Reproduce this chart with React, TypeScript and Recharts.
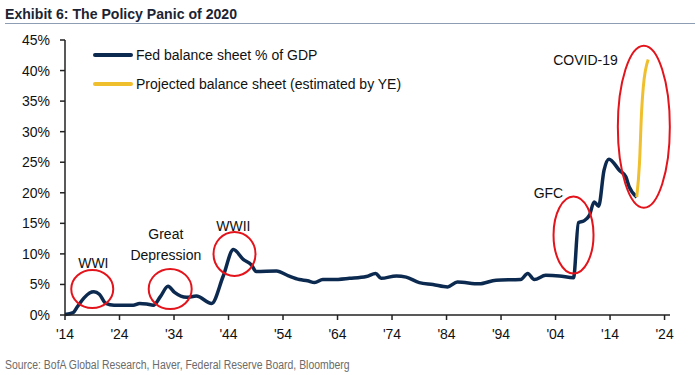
import React from 'react';
import { LineChart, Line, XAxis, YAxis, ReferenceDot } from 'recharts';

const fedYears = [
  1914.0, 1915.5, 1916.3, 1917.5, 1918.5, 1919.3, 1920.3, 1921.5, 1923.0, 1925.0,
  1926.5, 1927.7, 1929.0, 1930.2, 1931.5, 1932.9, 1934.1, 1936.3, 1938.1, 1940.9,
  1943.0, 1944.9, 1946.7, 1948.2, 1949.1, 1952.8, 1955.0, 1957.0, 1958.5, 1959.8,
  1961.3, 1963.1, 1966.2, 1969.3, 1971.0, 1972.0, 1974.8, 1976.6, 1979.0, 1981.5,
  1984.2, 1986.0, 1990.0, 1993.1, 1997.6, 1998.9, 2000.1, 2002.2, 2004.7, 2007.3,
  2008.2, 2009.2, 2010.2, 2011.1, 2011.9, 2012.9, 2013.8, 2015.7, 2016.9, 2017.5,
  2018.9,
];
const fedValues = [
  0.1, 0.4, 1.4, 2.8, 3.6, 3.8, 3.4, 1.9, 1.6, 1.6,
  1.6, 1.9, 1.8, 1.6, 3.0, 4.7, 3.7, 2.9, 3.1, 1.9,
  6.3, 10.7, 9.1, 8.2, 7.1, 7.2, 6.4, 5.8, 5.6, 5.3,
  5.8, 5.8, 6.0, 6.3, 6.8, 6.0, 6.4, 6.2, 5.3, 5.0,
  4.6, 5.4, 5.1, 5.7, 5.8, 6.8, 5.8, 6.5, 6.4, 6.1,
  15.1, 15.4, 16.3, 18.5, 17.8, 23.7, 25.5, 23.7, 22.6, 21.0,
  19.3,
];

// projected balance sheet (estimated by year end)
const projYears = [2018.9, 2019.4, 2019.8, 2020.1, 2021.0];
const projValues = [19.3, 24.8, 33.5, 37.3, 41.8];

const xTicks = [1914, 1924, 1934, 1944, 1954, 1964, 1974, 1984, 1994, 2004, 2014, 2024];
const yTicks = [0, 5, 10, 15, 20, 25, 30, 35, 40, 45];

// episodes circled on the chart
const episodes = [
  { name: 'WWI', x: 1919.0, y: 4.25, rx: 21, ry: 19 },
  { name: 'Great Depression', x: 1933.3, y: 4.25, rx: 21.5, ry: 20 },
  { name: 'WWII', x: 1945.1, y: 10.0, rx: 21, ry: 22 },
  { name: 'GFC', x: 2007.3, y: 13.1, rx: 20, ry: 38.5 },
  { name: 'COVID-19', x: 2020.2, y: 30.8, rx: 26, ry: 81 },
];
const episodeLabels = [
  { lines: ['WWI'], x: 1919.2, y: 8.46 },
  { lines: ['Great', 'Depression'], x: 1932.5, y: 11.6 },
  { lines: ['WWII'], x: 1944.9, y: 14.6 },
  { lines: ['GFC'], x: 2002.7, y: 20.0 },
  { lines: ['COVID-19'], x: 2009.5, y: 41.8 },
];

const fedData = fedYears.map((year, i) => ({ year, value: fedValues[i] }));
const projData = projYears.map((year, i) => ({ year, value: projValues[i] }));

const NAVY = '#0c2a50';
const GOLD = '#f0bf2e';
const RED = '#e3141c';
const FONT = '"Liberation Sans", Arial, sans-serif';

const legendItems = [
  { label: 'Fed balance sheet % of GDP', color: NAVY },
  { label: 'Projected balance sheet (estimated by YE)', color: GOLD },
];

function LegendBox() {
  return (
    <div style={{ position: 'absolute', left: 93, top: 40, fontFamily: FONT, fontSize: 14, color: '#111' }}>
      {legendItems.map((item) => (
        <div key={item.label} style={{ display: 'flex', alignItems: 'center', height: 29 }}>
          <span style={{ display: 'inline-block', width: 40, height: 4, borderRadius: 2, background: item.color, marginRight: 3 }} />
          {item.label}
        </div>
      ))}
    </div>
  );
}

export default function App() {
  return (
    <div style={{ position: 'absolute', left: 0, top: 0, width: 700, height: 375, background: '#fff', overflow: 'hidden' }}>
      <div style={{ position: 'absolute', left: 5, top: 5, whiteSpace: 'nowrap', transform: 'scaleX(0.91)', transformOrigin: 'left top', fontFamily: FONT, fontWeight: 'bold', fontSize: 15.5, color: '#1c2433' }}>
        Exhibit 6: The Policy Panic of 2020
      </div>
      <div style={{ position: 'absolute', left: 5, top: 23, width: 690, height: 1, background: '#8d9db3' }} />
      <LineChart width={700} height={375} margin={{ top: 40, right: 30, bottom: 30, left: 0 }}>
        <XAxis
          dataKey="year"
          type="number"
          domain={[1914, 2025]}
          ticks={xTicks}
          tickFormatter={(v) => "'" + String(v).slice(2)}
          allowDuplicatedCategory={false}
          height={30}
          tickSize={5}
          tickMargin={9}
          stroke="#222"
          strokeWidth={1.5}
          tick={{ fill: '#111', fontSize: 14, fontFamily: FONT }}
        />
        <YAxis
          type="number"
          domain={[0, 45]}
          ticks={yTicks}
          tickFormatter={(v) => v + '%'}
          width={65}
          tickSize={5}
          tickMargin={10}
          stroke="#222"
          strokeWidth={1.5}
          tick={{ fill: '#111', fontSize: 14, fontFamily: FONT }}
        />
        <Line data={fedData} dataKey="value" name="Fed" stroke={NAVY} strokeWidth={3.5} dot={false} type="monotone" isAnimationActive={false} />
        <Line data={projData} dataKey="value" name="Projected" stroke={GOLD} strokeWidth={3} dot={false} type="monotone" isAnimationActive={false} />
        {episodes.map((e) => (
          <ReferenceDot
            key={e.name}
            x={e.x}
            y={e.y}
            r={0}
            shape={(p: any) => <ellipse cx={p.cx} cy={p.cy} rx={e.rx} ry={e.ry} fill="none" stroke={RED} strokeWidth={2} />}
          />
        ))}
        {episodeLabels.map((l) => (
          <ReferenceDot
            key={l.lines.join(' ')}
            x={l.x}
            y={l.y}
            r={0}
            shape={(p: any) => (
              <text x={p.cx} y={p.cy - (l.lines.length - 1) * 10.5} textAnchor="middle" dominantBaseline="central" fontFamily={FONT} fontSize={14} fill="#111">
                {l.lines.map((s, i) => (
                  <tspan key={s} x={p.cx} dy={i === 0 ? 0 : 21}>{s}</tspan>
                ))}
              </text>
            )}
          />
        ))}
      </LineChart>
      <LegendBox />
      <div style={{ position: 'absolute', left: 5, top: 358, whiteSpace: 'nowrap', transform: 'scaleX(0.835)', transformOrigin: 'left top', fontFamily: FONT, fontSize: 12.5, color: '#6b6b6b' }}>
        Source: BofA Global Research, Haver, Federal Reserve Board, Bloomberg
      </div>
    </div>
  );
}
